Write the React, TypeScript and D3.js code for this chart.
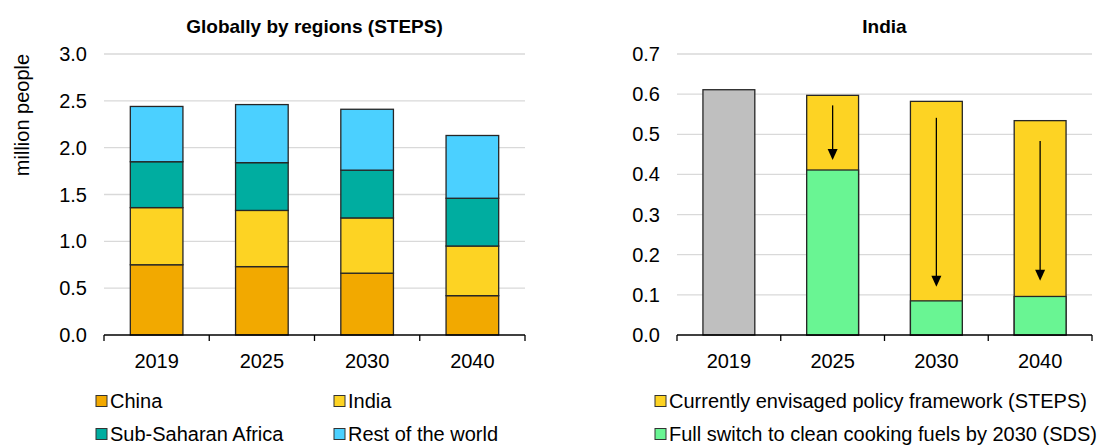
import React, { useRef, useEffect } from "react";
import * as d3 from "d3";

// categories
const years = ["2019", "2025", "2030", "2040"];

// left panel: globally by regions (STEPS), million people
const regionNames = ["China", "India", "Sub-Saharan Africa", "Rest of the world"];
const china = [0.75, 0.73, 0.66, 0.42];
const india = [0.61, 0.6, 0.59, 0.53];
const subSaharan = [0.49, 0.51, 0.51, 0.51];
const restOfWorld = [0.59, 0.62, 0.65, 0.67];
const regionColors = ["#F2A900", "#FDD323", "#00ADA0", "#4BD0FF"];
const leftTicks = [0, 0.5, 1, 1.5, 2, 2.5, 3];

// right panel: India
const indiaSteps = [0.611, 0.597, 0.582, 0.534];
const indiaSds = [null, 0.411, 0.085, 0.096];
const arrowFrom = [null, 0.572, 0.541, 0.483];
const arrowTo = [null, 0.436, 0.12, 0.135];
const scenarioNames = [
  "Currently envisaged policy framework (STEPS)",
  "Full switch to clean cooking fuels by 2030 (SDS)",
];
const scenarioColors = ["#FDD323", "#69F593"];
const historyColor = "#BFBFBF";
const rightTicks = [0, 0.1, 0.2, 0.3, 0.4, 0.5, 0.6, 0.7];

const FONT = "'Liberation Sans', Arial, sans-serif";
const FS = 20;

export default function App() {
  const svgRef = useRef<SVGSVGElement>(null);

  useEffect(() => {
    const svg = d3.select(svgRef.current);
    svg.selectAll("*").remove();
    svg.append("rect").attr("width", 1099).attr("height", 447).attr("fill", "#fff");

    const drawFrame = (
      x0: number,
      x1: number,
      yMax: number,
      ticks: number[],
      title: string
    ) => {
      const x = d3.scaleBand().domain(years).range([x0, x1]).paddingInner(0.5).paddingOuter(0.25);
      const y = d3.scaleLinear().domain([0, yMax]).range([335, 54]);
      const g = svg.append("g");

      // gridlines
      g.selectAll(".grid")
        .data(ticks.filter((t) => t > 0))
        .join("line")
        .attr("x1", x0)
        .attr("x2", x1)
        .attr("y1", (d) => y(d))
        .attr("y2", (d) => y(d))
        .attr("stroke", "#D9D9D9")
        .attr("stroke-width", 1.3);

      // y tick labels
      g.selectAll(".ylab")
        .data(ticks)
        .join("text")
        .attr("x", x0 - 17)
        .attr("y", (d) => y(d))
        .attr("dy", "0.35em")
        .attr("text-anchor", "end")
        .attr("font-family", FONT)
        .attr("font-size", FS)
        .attr("fill", "#000")
        .text((d) => d3.format(".1f")(d));

      // title
      g.append("text")
        .attr("x", (x0 + x1) / 2)
        .attr("y", 33)
        .attr("text-anchor", "middle")
        .attr("font-family", FONT)
        .attr("font-size", FS - 1)
        .attr("font-weight", "bold")
        .text(title);

      return { x, y, g };
    };

    const drawAxis = (g: any, x: d3.ScaleBand<string>, x0: number, x1: number) => {
      const edges = d3.range(years.length + 1).map((i) => x0 + i * ((x1 - x0) / years.length));
      g.append("line")
        .attr("x1", x0)
        .attr("x2", x1)
        .attr("y1", 335)
        .attr("y2", 335)
        .attr("stroke", "#000")
        .attr("stroke-width", 1.5);
      g.selectAll(".tick")
        .data(edges)
        .join("line")
        .attr("x1", (d: number) => d)
        .attr("x2", (d: number) => d)
        .attr("y1", 335)
        .attr("y2", 341)
        .attr("stroke", "#000")
        .attr("stroke-width", 1.3);
      g.selectAll(".xlab")
        .data(years)
        .join("text")
        .attr("x", (d: string) => (x(d) as number) + x.bandwidth() / 2)
        .attr("y", 368)
        .attr("text-anchor", "middle")
        .attr("font-family", FONT)
        .attr("font-size", FS)
        .text((d: string) => d);
    };

    // ---------- left panel ----------
    const L = drawFrame(104, 525, 3, leftTicks, "Globally by regions (STEPS)");
    const series = [china, india, subSaharan, restOfWorld];
    const table = years.map((yr, i) => {
      const row: any = { year: yr };
      regionNames.forEach((r, k) => (row[r] = series[k][i]));
      return row;
    });
    const stacked = d3.stack().keys(regionNames)(table);
    stacked.forEach((layer, k) => {
      L.g.selectAll(".seg" + k)
        .data(layer)
        .join("rect")
        .attr("x", (d: any) => L.x(d.data.year) as number)
        .attr("y", (d: any) => L.y(d[1]))
        .attr("width", L.x.bandwidth())
        .attr("height", (d: any) => L.y(d[0]) - L.y(d[1]))
        .attr("fill", regionColors[k])
        .attr("stroke", "#262626")
        .attr("stroke-width", 1.3);
    });
    drawAxis(L.g, L.x, 104, 525);

    svg.append("text")
      .attr("transform", "translate(29,115) rotate(-90)")
      .attr("text-anchor", "middle")
      .attr("font-family", FONT)
      .attr("font-size", FS)
      .text("million people");

    // ---------- right panel ----------
    const R = drawFrame(677, 1092, 0.7, rightTicks, "India");
    years.forEach((yr, i) => {
      const bx = R.x(yr) as number;
      const bw = R.x.bandwidth();
      R.g.append("rect")
        .attr("x", bx)
        .attr("y", R.y(indiaSteps[i]))
        .attr("width", bw)
        .attr("height", R.y(0) - R.y(indiaSteps[i]))
        .attr("fill", i === 0 ? historyColor : scenarioColors[0])
        .attr("stroke", "#262626")
        .attr("stroke-width", 1.3);
      const s = indiaSds[i];
      if (s != null) {
        R.g.append("rect")
          .attr("x", bx)
          .attr("y", R.y(s))
          .attr("width", bw)
          .attr("height", R.y(0) - R.y(s))
          .attr("fill", scenarioColors[1])
          .attr("stroke", "#262626")
          .attr("stroke-width", 1.3);
      }
      const a0 = arrowFrom[i];
      const a1 = arrowTo[i];
      if (a0 != null && a1 != null) {
        const cx = bx + bw / 2;
        R.g.append("line")
          .attr("x1", cx)
          .attr("x2", cx)
          .attr("y1", R.y(a0))
          .attr("y2", R.y(a1) - 8)
          .attr("stroke", "#000")
          .attr("stroke-width", 1.3);
        R.g.append("path")
          .attr("d", `M${cx - 5},${R.y(a1) - 11}L${cx + 5},${R.y(a1) - 11}L${cx},${R.y(a1)}Z`)
          .attr("fill", "#000");
      }
    });
    drawAxis(R.g, R.x, 677, 1092);

    // ---------- legends ----------
    const legend = (items: string[], colors: string[], xs: number[], ys: number[]) => {
      items.forEach((name, i) => {
        const lg = svg.append("g").attr("transform", `translate(${xs[i]},${ys[i]})`);
        lg.append("rect")
          .attr("x", 0)
          .attr("y", -5.5)
          .attr("width", 11)
          .attr("height", 11)
          .attr("fill", colors[i])
          .attr("stroke", "#333")
          .attr("stroke-width", 1);
        lg.append("text")
          .attr("x", 14)
          .attr("y", 0)
          .attr("dy", "0.35em")
          .attr("font-family", FONT)
          .attr("font-size", FS)
          .text(name);
      });
    };
    legend(regionNames, regionColors, [96, 334, 96, 334], [401, 401, 434, 434]);
    legend(scenarioNames, scenarioColors, [655, 655], [401, 434]);
  }, []);

  return (
    <svg
      ref={svgRef}
      width={1099}
      height={447}
      style={{ position: "absolute", left: 0, top: 0 }}
    />
  );
}
